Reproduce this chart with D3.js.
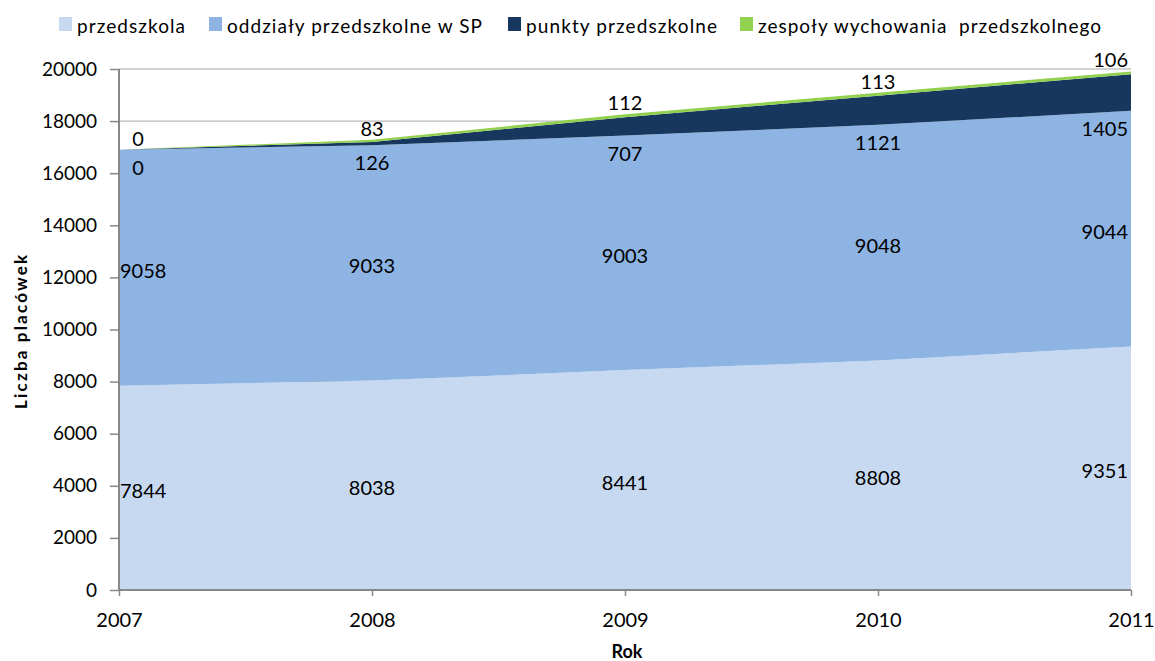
<!DOCTYPE html>
<html><head><meta charset="utf-8">
<script src="https://cdn.jsdelivr.net/npm/d3@7/dist/d3.min.js"></script>
<style>
body{margin:0;background:#fff;}
text{font-family:Lato,"Noto Sans",sans-serif;fill:#000;}
</style></head>
<body><svg id="c" width="1155" height="661"></svg>
<script>
const years = [2007, 2008, 2009, 2010, 2011];
const seriesNames = ["przedszkola", "oddziały przedszkolne w SP", "punkty przedszkolne", "zespoły wychowania  przedszkolnego"];
const przedszkola = [7844, 8038, 8441, 8808, 9351];
const oddzialy = [9058, 9033, 9003, 9048, 9044];
const punkty = [0, 126, 707, 1121, 1405];
const zespoly = [0, 83, 112, 113, 106];
const yTicks = [0, 2000, 4000, 6000, 8000, 10000, 12000, 14000, 16000, 18000, 20000];
const colors = ["#c6d9f1", "#8eb4e3", "#17375e", "#92d050"];

const svg = d3.select("#c");
const L = 119, R = 1131, T = 69, B = 590;
const x = d3.scalePoint().domain(years).range([L, R]);
const y = d3.scaleLinear().domain([0, 20000]).range([B, T]);

const keys = ["p", "o", "k", "z"];
const rows = years.map((yr, i) => ({year: yr, p: przedszkola[i], o: oddzialy[i], k: punkty[i], z: zespoly[i]}));
const stack = d3.stack().keys(keys)(rows);

// gridlines
svg.append("g").selectAll("line").data(yTicks.filter(d => d > 0)).join("line")
  .attr("x1", L).attr("x2", R).attr("y1", d => y(d)).attr("y2", d => y(d))
  .attr("stroke", "#a6a6a6").attr("stroke-width", 1);

const area = d3.area().x(d => x(d.data.year)).y0(d => y(d[0])).y1(d => y(d[1]));
svg.append("g").selectAll("path").data(stack).join("path")
  .attr("d", area).attr("fill", (d, i) => colors[i]);

// axes
const yAxis = d3.axisLeft(y).tickValues(yTicks).tickSize(9).tickPadding(13).tickFormat(d3.format("d"));
const gy = svg.append("g").attr("transform", `translate(${L},0)`).call(yAxis);
gy.select(".domain").attr("stroke", "#888").attr("stroke-width", 2).attr("d", `M0,${T}V${B}`);
gy.selectAll(".tick line").attr("stroke", "#888").attr("stroke-width", 1.5);
gy.selectAll(".tick text").attr("font-size", 19).attr("font-family", "Lato");

const xAxis = d3.axisBottom(x).tickSize(6).tickPadding(17).tickFormat(d3.format("d"));
const gx = svg.append("g").attr("transform", `translate(0,${B})`).call(xAxis);
gx.select(".domain").attr("stroke", "#888").attr("stroke-width", 2).attr("d", `M${L},0H${R}`);
gx.selectAll(".tick line").attr("stroke", "#888").attr("stroke-width", 1.5);
gx.selectAll(".tick text").attr("font-size", 20).attr("font-family", "Lato");

// data labels
const lab = svg.append("g").attr("font-size", 20);
stack.forEach((s, si) => {
  s.forEach((d, i) => {
    let ly;
    if (si < 2) ly = y((d[0] + d[1]) / 2) + 2;
    else if (si === 2) ly = y(d[0]) + 17;
    else ly = y(d[1]) - 12;
    const t = lab.append("text").attr("y", ly)
      .attr("text-anchor", "middle").attr("dominant-baseline", "central")
      .text(d.data[keys[si]]);
    const w = t.node().getComputedTextLength();
    let cx = x(years[i]);
    if (i === 0) cx = L + Math.max(w / 2 + 1, 19);
    else if (i === years.length - 1) cx = R - 3 - w / 2;
    t.attr("x", cx);
  });
});

// axis titles
svg.append("text").attr("transform", "translate(20,332) rotate(-90)")
  .attr("text-anchor", "middle").attr("dominant-baseline", "central")
  .attr("font-size", 17).attr("font-weight", "bold")
  .attr("textLength", 154).attr("lengthAdjust", "spacing").text("Liczba placówek");
svg.append("text").attr("x", 627).attr("y", 651)
  .attr("text-anchor", "middle").attr("dominant-baseline", "central")
  .attr("font-size", 18).attr("font-weight", "bold").text("Rok");

// legend
const legX = [59, 209, 508, 740];
const legW = [108, 255, 191, 343];
const leg = svg.append("g");
seriesNames.forEach((n, i) => {
  leg.append("rect").attr("x", legX[i]).attr("y", 17).attr("width", 13).attr("height", 14).attr("fill", colors[i]);
  leg.append("text").attr("x", legX[i] + 18).attr("y", 25).attr("dominant-baseline", "central")
    .attr("font-size", 19).attr("textLength", legW[i]).attr("lengthAdjust", "spacing")
    .style("white-space", "pre").text(n);
});
</script></body></html>
